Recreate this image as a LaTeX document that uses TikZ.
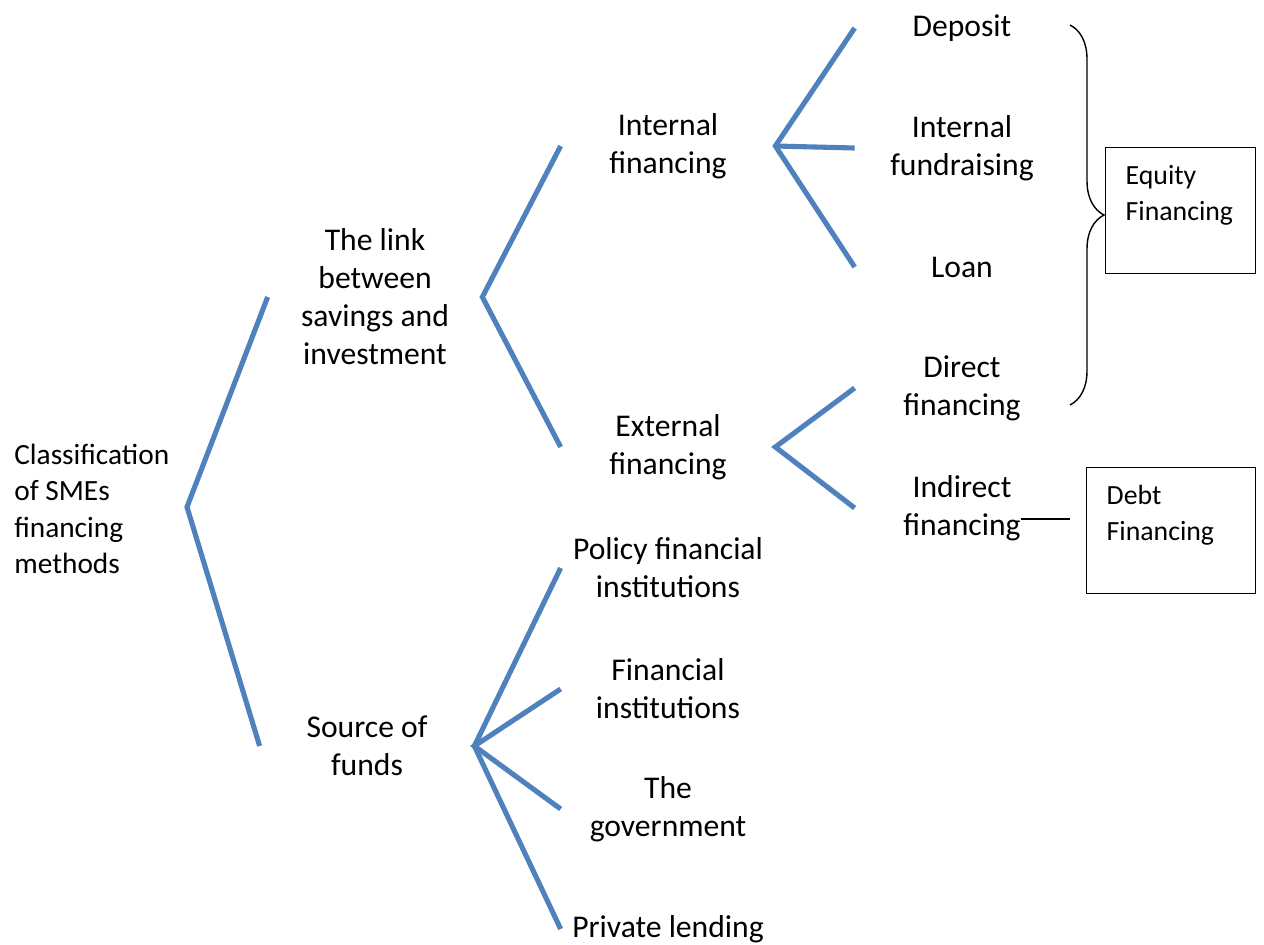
\documentclass[tikz,border=0pt]{standalone}
\usepackage{fontspec}
\setmainfont{Carlito}
\usepackage{tikz}
\usetikzlibrary{positioning,decorations.pathreplacing}
\definecolor{branchblue}{HTML}{4F81BD}

\begin{document}
\begin{tikzpicture}[x=0.2mm, y=-0.2mm, every node/.style={font=\fontsize{18}{21.6}\selectfont}, lbl/.style={align=center, minimum width=4.28cm, inner sep=0pt}, branch/.style={draw=branchblue, line width=2.9pt}, sidebox/.style={draw, thick, align=left, anchor=north west, inner xsep=0.4cm, inner ysep=0.2cm, text height=0.54cm, text depth=1.58cm, font=\fontsize{15.8}{20.4}\selectfont}]
\useasboundingbox (0,0) rectangle (1264,945);
\node[anchor=west, align=left, inner sep=0pt, font=\fontsize{16.7}{20.6}\selectfont] (root) at (14,509) {Classification\\ of SMEs\\ financing\\ methods};
\coordinate (fork) at (187,507);
\node[lbl] (link) at (375,297) {The link\\ between\\ savings and\\ investment};
\node[lbl] (source) at (367,746) {Source of\\ funds};
\node[lbl] (intfin) at (668,146) {Internal\\ financing};
\node[lbl] (extfin) at (668,447) {External\\ financing};
\node[lbl] (policy) at (668,568) {Policy financial\\ institutions};
\node[lbl] (finist) at (668,689) {Financial\\ institutions};
\node[lbl] (govt) at (668,809) {The\\ government};
\node[lbl] (private) at (668,929) {Private lending};
\node[lbl] (deposit) at (962,28) {Deposit};
\node[lbl] (fundr) at (962,148) {Internal\\ fundraising};
\node[lbl] (loan) at (962,267) {Loan};
\node[lbl] (direct) at (962,388) {Direct\\ financing};
\node[lbl] (indirect) at (962,508) {Indirect\\ financing};
\node[sidebox, text width=2.2cm] (equity) at (1105,147) {Equity\\ Financing};
\node[sidebox, text width=2.58cm] (debt) at (1086,467) {Debt\\ Financing};
% blue branches
\draw[branch] (link.west) -- (fork) -- (source.west);
\draw[branch] (intfin.west) -- (link.east) -- (extfin.west);
\draw[branch] (deposit.west) -- (intfin.east) -- (loan.west);
\draw[branch] (intfin.east) -- (fundr.west);
\draw[branch] (direct.west) -- (extfin.east) -- (indirect.west);
\draw[branch] (policy.west) -- (source.east) -- (private.west);
\draw[branch] (finist.west) -- (source.east) -- (govt.west);
% brace and debt tick
\coordinate (bracetop) at (1070,25);
\coordinate (bracebot) at (1070,405);
\draw[thick, decorate, decoration={brace, amplitude=0.68cm}] (bracetop) -- (bracebot);
\coordinate (tickstart) at (1021,519);
\coordinate (tickend) at (1070,519);
\draw[line width=1.4pt] (tickstart) -- (tickend);
\end{tikzpicture}
\end{document}
